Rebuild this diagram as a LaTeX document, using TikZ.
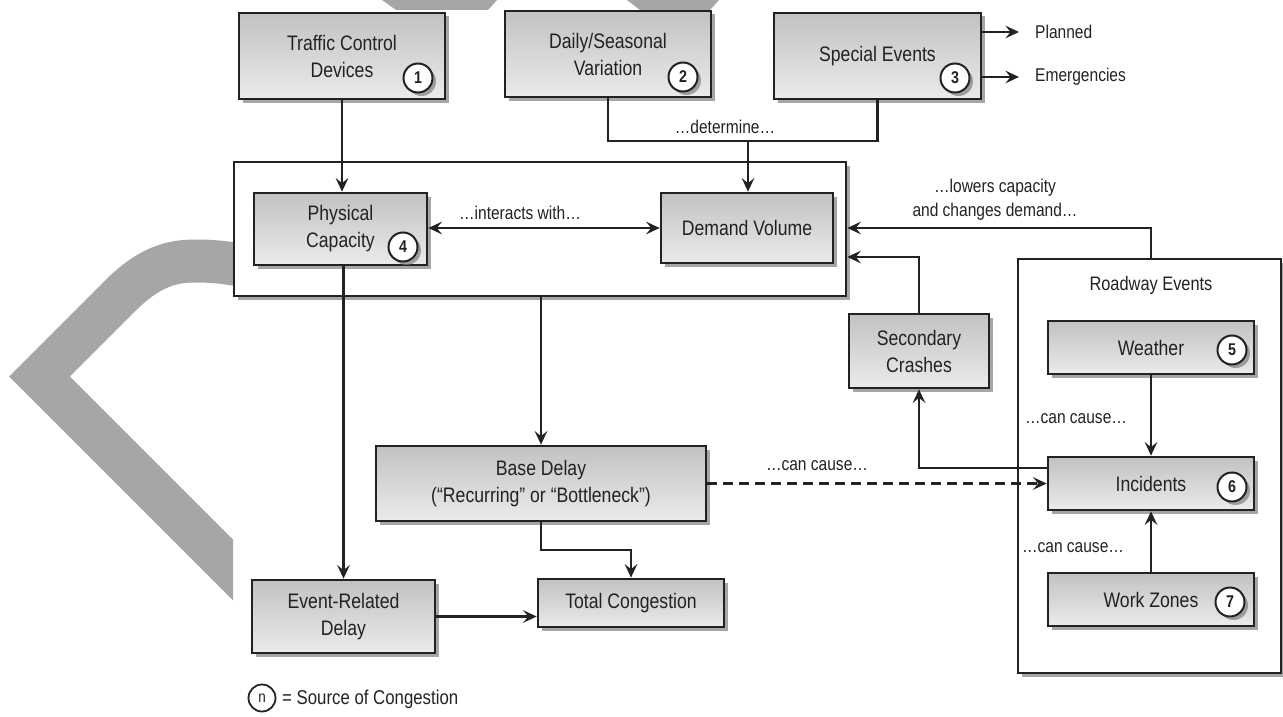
\documentclass[tikz,border=0pt]{standalone}
\usepackage{fontspec}
\setmainfont{Liberation Sans}[FakeStretch=0.84]
\usetikzlibrary{arrows.meta,shadows}
\definecolor{ink}{HTML}{222222}
\definecolor{band}{HTML}{A6A6A6}
\begin{document}
\begin{tikzpicture}[x=1pt,y=-1pt,
  >={Stealth[length=13.5pt,width=12.5pt,inset=5pt]},
  shade/.style={drop shadow={shadow xshift=3.5pt,shadow yshift=-3.5pt,fill=black!50,opacity=.7}},
  gbox/.style={draw=ink,line width=2.7pt,top color=gray!48,bottom color=gray!16,
    shade,align=center,inner sep=0pt,text=ink,font=\fontsize{21}{27}\selectfont},
  frame/.style={draw=ink,line width=2.6pt,fill=white,shade,inner sep=0pt},
  num/.style={circle,draw=ink,line width=2pt,fill=white,minimum size=29pt,inner sep=0pt,
    shade,text=ink,font=\fontsize{17}{17}\selectfont\bfseries},
  lbl/.style={text=ink,inner sep=0pt,align=center,font=\fontsize{18.5}{24}\selectfont},
  conn/.style={draw=ink,line width=2.2pt,->},
  link/.style={draw=ink,line width=2.2pt}]
\useasboundingbox (0,0) rectangle (1283,717);

% grey band in the background
\begin{scope}
  \clip (0,0) rectangle (233,717);
  \draw[band,line width=43pt,line join=miter]
    (250,267) .. controls (225,262) and (212,261) .. (195,261)
    .. controls (170,261) and (148,268) .. (120,296)
    -- (39.5,376.5) -- (320,657);
\end{scope}
\fill[band] (382,0) -- (497,0) -- (488,10) -- (396,10) -- cycle;
\fill[band] (627,0) -- (719,0) -- (710,10) -- (640,10) -- cycle;

% containers
\node[frame,minimum width=612pt,minimum height=134pt] (outer) at (540,229) {};
\node[frame,minimum width=263pt,minimum height=414pt] (road) at (1149.5,466) {};
\node[lbl,font=\fontsize{19.5}{24}\selectfont] (roadt) at (1151,285) {Roadway Events};

% boxes
\node[gbox,minimum width=206pt,minimum height=86pt] (tcd) at (342,56) {Traffic Control\\Devices};
\node[gbox,minimum width=206pt,minimum height=86pt] (dsv) at (608,54) {Daily/Seasonal\\Variation};
\node[gbox,minimum width=207pt,minimum height=86pt] (spe) at (877.5,56) {Special Events};
\node[gbox,minimum width=173pt,minimum height=72pt] (phy) at (340.5,229) {Physical\\Capacity};
\node[gbox,minimum width=172pt,minimum height=70pt] (dem) at (747,228) {Demand Volume};
\node[gbox,minimum width=140pt,minimum height=74pt] (sec) at (919,351) {Secondary\\Crashes};
\node[gbox,minimum width=206pt,minimum height=53pt] (wea) at (1151,347.5) {Weather};
\node[gbox,minimum width=206pt,minimum height=53pt] (inc) at (1151,483.5) {Incidents};
\node[gbox,minimum width=206pt,minimum height=53pt] (wzn) at (1151,599.5) {Work Zones};
\node[gbox,minimum width=330pt,minimum height=75pt] (base) at (541,483.5) {Base Delay\\(“Recurring” or “Bottleneck”)};
\node[gbox,minimum width=183pt,minimum height=73pt] (evt) at (343.5,616.5) {Event-Related\\Delay};
\node[gbox,minimum width=186pt,minimum height=48pt] (tot) at (631,603) {Total Congestion};

% source-of-congestion markers
\node[num] (n1) at (418,78) {1};
\node[num] (n2) at (683,77) {2};
\node[num] (n3) at (955,78) {3};
\node[num] (n4) at (403,247) {4};
\node[num] (n5) at (1232,350) {5};
\node[num] (n6) at (1232,487) {6};
\node[num] (n7) at (1230,602) {7};

% side labels
\node[lbl,anchor=west] (pl) at (1035,32) {Planned};
\node[lbl,anchor=west] (em) at (1035,77) {Emergencies};
\node[lbl] (ldet) at (725,127) {…determine…};
\node[lbl] (lint) at (520,213) {…interacts with…};
\node[lbl] (llow) at (995,200) {…lowers capacity\\and changes demand…};
\node[lbl] (lcc1) at (1076,419) {…can cause…};
\node[lbl] (lcc2) at (1073,548) {…can cause…};
\node[lbl] (lcc3) at (817,466) {…can cause…};

% legend
\node[circle,draw=ink,line width=1.8pt,minimum size=27pt,inner sep=0pt,text=ink,
  font=\fontsize{16}{16}\selectfont] (leg) at (262,698) {n};
\node[lbl,anchor=west,font=\fontsize{20}{24}\selectfont] (legt) at (282,699) {= Source of Congestion};

% connectors
\coordinate (detj) at (748,141);
\draw[link] (dsv.south) |- (detj) -| (spe.south);
\draw[conn] (detj) -- (detj |- dem.north);
\draw[conn] (tcd.south) -- (tcd.south |- phy.north);
\draw[conn,<->] (phy.east |- dem.west) -- (dem.west);
\draw[conn,shorten >=16pt] (spe.east |- pl.west) -- (pl.west);
\draw[conn,shorten >=16pt] (spe.east |- em.west) -- (em.west);
\draw[conn] ([xshift=1.5pt]road.north) |- ([yshift=1pt]outer.east);
\draw[conn] (sec.north) |- ([yshift=-28pt]outer.east);
\draw[conn] ([yshift=15.5pt]inc.west) -| (sec.south);
\draw[conn,dash pattern=on 10pt off 6pt] (base.east) -- (inc.west);
\draw[conn] (wea.south) -- (inc.north);
\draw[conn] (wzn.north) -- (inc.south);
\draw[conn] (base.north |- outer.south) -- (base.north);
\draw[conn] (evt.north |- phy.south) -- (evt.north);
\draw[conn] (base.south) -- ++(0,28) -| (tot.north);
\draw[conn] (evt.east) -- (evt.east -| tot.west);
\end{tikzpicture}
\end{document}
